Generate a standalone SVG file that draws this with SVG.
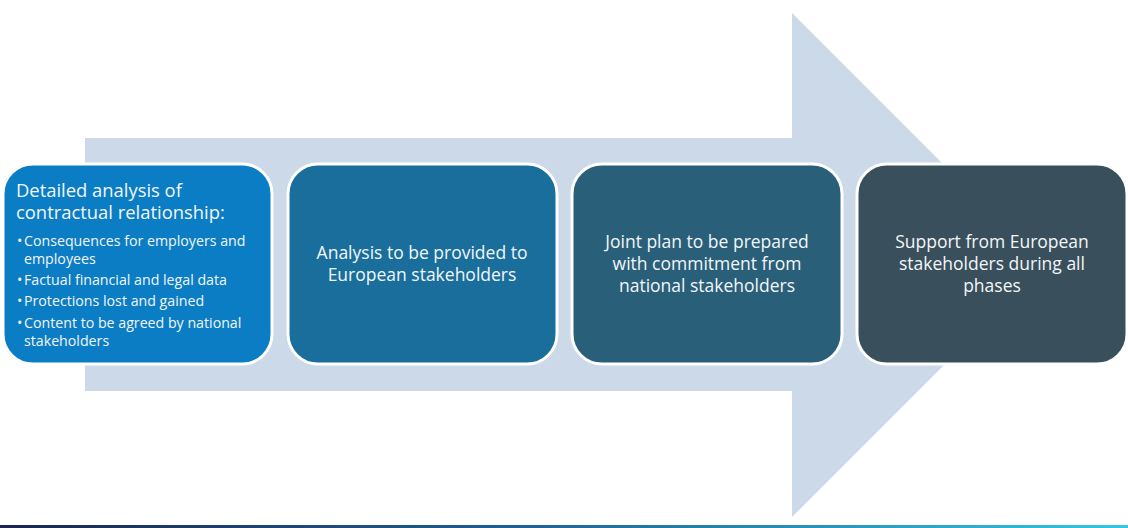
<svg xmlns="http://www.w3.org/2000/svg" width="1128" height="528" viewBox="0 0 1128 528">
<defs>
<linearGradient id="bar" x1="0" y1="0" x2="1" y2="0">
<stop offset="0" stop-color="#1b2550"/>
<stop offset="0.45" stop-color="#1f5f92"/>
<stop offset="1" stop-color="#35c6e8"/>
</linearGradient>
</defs>
<style>
.box{stroke:#ffffff;stroke-width:3}
.t{font-family:"Open Sans","Noto Sans",sans-serif;fill:#f2f6f9;font-size:17.5px}
.c{text-anchor:middle}
.h{font-size:18.4px}
.b{font-size:14.2px}
</style>
<rect width="1128" height="528" fill="#ffffff"/>
<polygon id="arrow" points="85,138 792,138 792,13 1044,265 792,517 792,391 85,391" fill="#ccd9e9"/>
<rect x="0" y="525" width="1128" height="3" fill="url(#bar)"/>
<g id="n1">
<rect class="box" x="3" y="164" width="269" height="200" rx="30" fill="#0b7dc5"/>
<text class="t h" x="16" y="197">Detailed analysis of</text>
<text class="t h" x="16" y="219">contractual relationship:</text>
<text class="t b" x="17" y="246">•</text><text class="t b" x="24" y="246">Consequences for employers and</text>
<text class="t b" x="24" y="264">employees</text>
<text class="t b" x="17" y="285">•</text><text class="t b" x="24" y="285">Factual financial and legal data</text>
<text class="t b" x="17" y="306">•</text><text class="t b" x="24" y="306">Protections lost and gained</text>
<text class="t b" x="17" y="328">•</text><text class="t b" x="24" y="328">Content to be agreed by national</text>
<text class="t b" x="24" y="346">stakeholders</text>
</g>
<g id="n2">
<rect class="box" x="288" y="164" width="269" height="200" rx="30" fill="#196e9b"/>
<text class="t c" x="422" y="259">Analysis to be provided to</text>
<text class="t c" x="422" y="281">European stakeholders</text>
</g>
<g id="n3">
<rect class="box" x="572" y="164" width="270" height="200" rx="30" fill="#2a5f79"/>
<text class="t c" x="707" y="248">Joint plan to be prepared</text>
<text class="t c" x="707" y="270">with commitment from</text>
<text class="t c" x="707" y="292">national stakeholders</text>
</g>
<g id="n4">
<rect class="box" x="857" y="164" width="270" height="200" rx="30" fill="#394f5b"/>
<text class="t c" x="992" y="248">Support from European</text>
<text class="t c" x="992" y="270">stakeholders during all</text>
<text class="t c" x="992" y="292">phases</text>
</g>
<g id="connectors"></g>
</svg>
